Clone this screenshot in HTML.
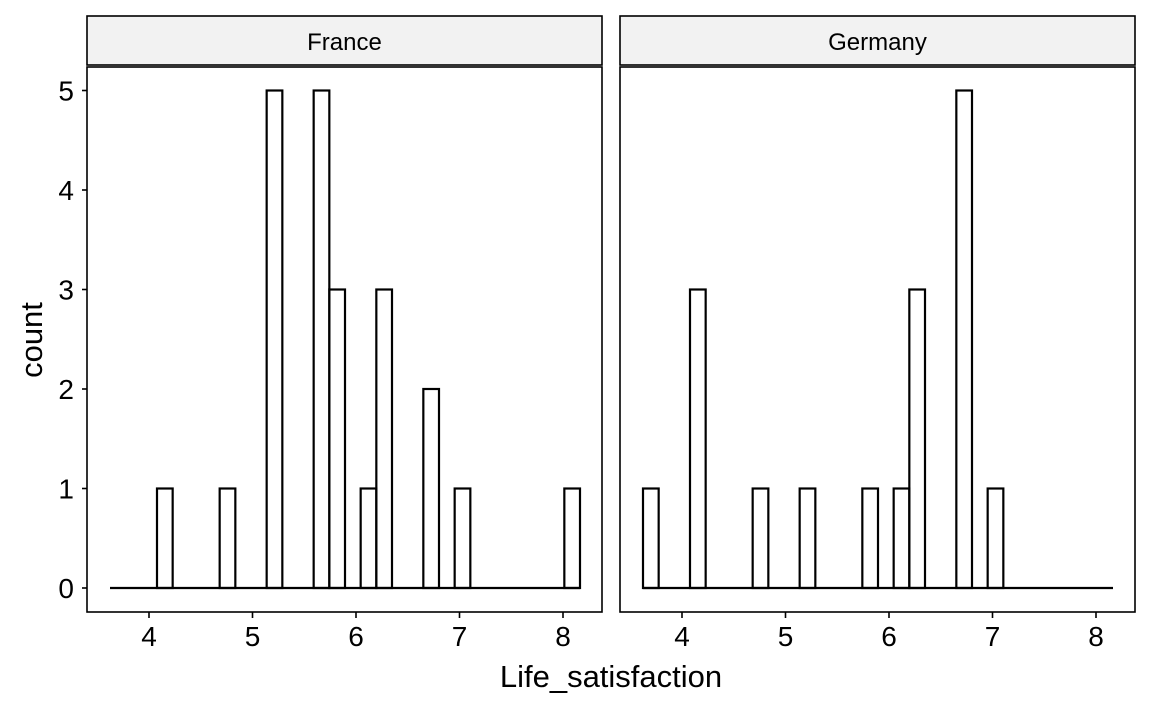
<!DOCTYPE html>
<html><head><style>body{margin:0;background:#fff}svg{display:block}text{font-family:"Liberation Sans",Arial,sans-serif}</style></head>
<body>
<svg id="s" width="1152" height="711" xmlns="http://www.w3.org/2000/svg">
<rect width="1152" height="711" fill="#fff"/>
<g fill="#000">
<rect x="87" y="16" width="515" height="49" fill="#f2f2f2" stroke="#000" stroke-width="1.6"/>
<rect x="620" y="16" width="515" height="49" fill="#f2f2f2" stroke="#000" stroke-width="1.6"/>
<text x="344.5" y="50" font-size="24" text-anchor="middle">France</text>
<text x="877.5" y="50" font-size="24" text-anchor="middle">Germany</text>
<rect x="87" y="67" width="515" height="545" fill="none" stroke="#000" stroke-width="1.6"/>
<rect x="620" y="67" width="515" height="545" fill="none" stroke="#000" stroke-width="1.6"/>
<g id="bars" fill="none" stroke="#000" stroke-width="2.2"></g>
<g id="ax" stroke="#000" stroke-width="1.6"></g>
<g id="lab" font-size="28"></g>
<text x="611" y="687" font-size="31" text-anchor="middle">Life_satisfaction</text>
<text transform="translate(42,340) rotate(-90)" font-size="31" text-anchor="middle">count</text>
</g>
</svg>
<script>
var ns="http://www.w3.org/2000/svg",bw=470/30;
function el(p,t,a,txt){var e=document.createElementNS(ns,t);for(var k in a)e.setAttribute(k,a[k]);if(txt!=null)e.textContent=txt;document.getElementById(p).appendChild(e);}
function y(v){return 588-v*99.5;}
var F={3:1,7:1,10:5,13:5,14:3,16:1,17:3,20:2,22:1,29:1};
var G={0:1,3:3,7:1,10:1,14:1,16:1,17:3,20:5,22:1};
[[110,F],[643,G]].forEach(function(p){
 el("bars","line",{x1:p[0],y1:588,x2:p[0]+470,y2:588});
 for(var k in p[1]){var x=p[0]+k*bw;el("bars","rect",{x:x,y:y(p[1][k]),width:bw,height:p[1][k]*99.5});}
});
for(var v=0;v<=5;v++){el("ax","line",{x1:82,y1:y(v),x2:87,y2:y(v)});el("lab","text",{x:74,y:y(v)+10,"text-anchor":"end"},v);}
[87,620].forEach(function(o){var off=o-87;for(var t=4;t<=8;t++){var x=149+off+(t-4)*103.5;el("ax","line",{x1:x,y1:612,x2:x,y2:618});el("lab","text",{x:x,y:646,"text-anchor":"middle"},t);}});
</script>
</body></html>
